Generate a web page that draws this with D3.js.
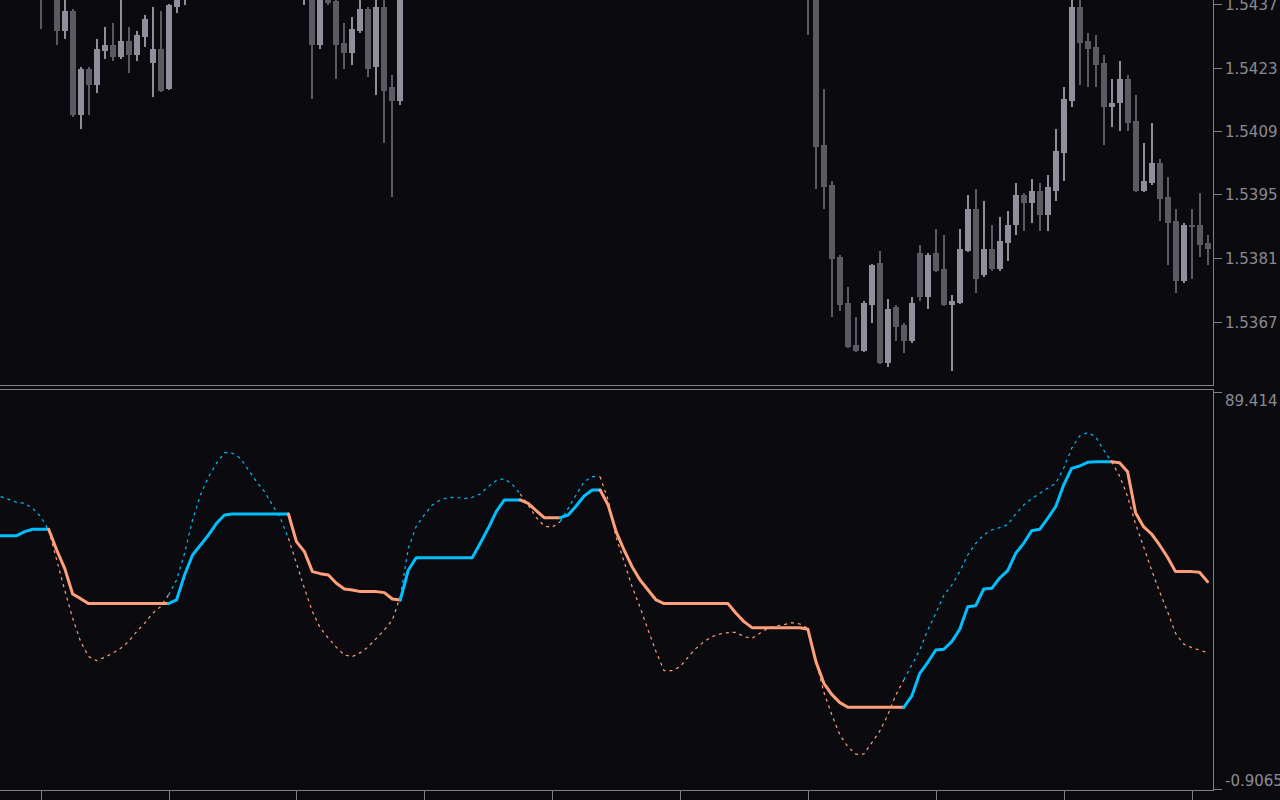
<!DOCTYPE html>
<html><head><meta charset="utf-8">
<script src="https://cdn.jsdelivr.net/npm/d3@7/dist/d3.min.js"></script>
<style>html,body{margin:0;padding:0;background:#0a0a0f;overflow:hidden}svg{display:block}</style>
</head><body><svg id="chart" width="1280" height="800"></svg>
<script>
// ---------- DATA ----------
const candleBar   = [5,7,8,9,10,11,12,13,14,15,16,17,18,19,20,21,22,23,38,39,40,41,42,43,44,45,46,47,48,49,50,101,102,103,104,105,106,107,108,109,110,111,112,113,114,115,116,117,118,119,120,121,122,123,124,125,126,127,128,129,130,131,132,133,134,135,136,137,138,139,140,141,142,143,144,145,146,147,148,149,150,151];
const candleOpen  = [1.54420,1.54410,1.54310,1.54355,1.54125,1.54227,1.54191,1.54266,1.54280,1.54253,1.54288,1.54258,1.54297,1.54240,1.54271,1.54183,1.54363,1.54400,1.54400,1.54420,1.54280,1.54383,1.54377,1.54284,1.54262,1.54310,1.54359,1.54231,1.54363,1.54187,1.54156,1.54430,1.54420,1.54059,1.53971,1.53812,1.53711,1.53618,1.53605,1.53706,1.53799,1.53579,1.53702,1.53662,1.53627,1.53821,1.53724,1.53821,1.53786,1.53706,1.53711,1.53826,1.53918,1.53773,1.53830,1.53786,1.53843,1.53883,1.53949,1.53931,1.53958,1.53905,1.53958,1.54041,1.54156,1.54363,1.54288,1.54275,1.54240,1.54143,1.54152,1.54205,1.54112,1.53958,1.53975,1.54019,1.53944,1.53892,1.53759,1.53883,1.53883,1.53843];
const candleHigh  = [1.54430,1.54420,1.54383,1.54359,1.54231,1.54231,1.54293,1.54319,1.54328,1.54383,1.54319,1.54310,1.54346,1.54363,1.54355,1.54370,1.54410,1.54430,1.54430,1.54430,1.54420,1.54400,1.54383,1.54328,1.54341,1.54385,1.54363,1.54390,1.54390,1.54213,1.54420,1.54440,1.54430,1.54183,1.53980,1.53817,1.53746,1.53680,1.53715,1.53797,1.53826,1.53720,1.53706,1.53667,1.53724,1.53839,1.53821,1.53874,1.53861,1.53728,1.53874,1.53949,1.53962,1.53936,1.53883,1.53900,1.53914,1.53975,1.53953,1.53984,1.53975,1.53993,1.54094,1.54187,1.54385,1.54380,1.54306,1.54302,1.54258,1.54205,1.54244,1.54213,1.54169,1.54064,1.54108,1.54028,1.53989,1.53918,1.53887,1.53918,1.53953,1.53861];
const candleLow   = [1.54315,1.54280,1.54293,1.54121,1.54094,1.54125,1.54174,1.54249,1.54244,1.54249,1.54218,1.54244,1.54275,1.54165,1.54176,1.54181,1.54350,1.54368,1.54368,1.54161,1.54271,1.54368,1.54205,1.54227,1.54236,1.54306,1.54209,1.54169,1.54064,1.53944,1.54147,1.54302,1.53962,1.53918,1.53680,1.53693,1.53612,1.53603,1.53603,1.53667,1.53577,1.53570,1.53627,1.53601,1.53623,1.53715,1.53698,1.53779,1.53704,1.53561,1.53709,1.53824,1.53733,1.53768,1.53781,1.53781,1.53803,1.53861,1.53870,1.53887,1.53870,1.53870,1.53936,1.53980,1.54143,1.54191,1.54187,1.54187,1.54059,1.54099,1.54090,1.54090,1.53956,1.53956,1.53971,1.53892,1.53795,1.53733,1.53755,1.53764,1.53812,1.53795];
const candleClose = [1.54400,1.54310,1.54355,1.54125,1.54227,1.54191,1.54271,1.54280,1.54253,1.54288,1.54258,1.54302,1.54337,1.54271,1.54178,1.54368,1.54401,1.54420,1.54420,1.54280,1.54410,1.54372,1.54280,1.54262,1.54315,1.54359,1.54227,1.54363,1.54178,1.54156,1.54410,1.54410,1.54055,1.53967,1.53808,1.53706,1.53614,1.53605,1.53711,1.53795,1.53579,1.53698,1.53658,1.53627,1.53711,1.53724,1.53817,1.53781,1.53706,1.53715,1.53830,1.53918,1.53764,1.53830,1.53786,1.53847,1.53883,1.53949,1.53931,1.53958,1.53905,1.53967,1.54046,1.54161,1.54363,1.54284,1.54271,1.54236,1.54143,1.54152,1.54205,1.54108,1.53958,1.53980,1.54019,1.53940,1.53887,1.53759,1.53883,1.53878,1.53839,1.53830];

// indicator: stepped main line and its dotted signal, one value per bar (0..151)
const solidLine = [
 56.67,56.67,56.67,57.58,58.11,58.11,58.11,53.40,49.23,43.39,
 42.33,41.20,41.20,41.20,41.20,41.20,41.20,41.20,41.20,41.20,
 41.20,41.20,42.03,47.72,52.27,54.54,56.82,59.47,61.37,61.59,
 61.59,61.59,61.59,61.59,61.59,61.59,61.59,55.30,53.03,48.48,
 48.02,47.72,45.82,44.53,44.30,43.93,43.93,43.93,43.70,42.26,
 42.03,48.85,51.66,51.66,51.66,51.66,51.66,51.66,51.66,51.66,
 54.92,58.33,62.13,64.78,64.78,64.78,64.02,62.35,60.76,60.76,
 60.76,61.37,63.41,65.69,67.05,67.05,63.64,57.58,53.40,49.61,
 46.58,44.30,42.03,41.20,41.20,41.20,41.20,41.20,41.20,41.20,
 41.20,41.20,39.00,37.10,35.73,35.73,35.73,35.73,35.73,35.73,
 35.73,35.36,28.00,23.07,20.49,18.67,17.61,17.61,17.61,17.61,
 17.61,17.61,17.61,17.61,20.19,25.35,27.85,30.65,30.81,32.55,
 35.36,40.51,40.74,44.53,44.68,47.03,48.70,52.65,54.92,57.80,
 58.11,60.61,63.26,68.19,71.98,72.51,73.35,73.50,73.50,73.50,
 73.27,71.23,61.90,58.71,57.04,54.54,51.74,48.48,48.48,48.48,
 48.32,46.20];
const dottedLine = [
 65.54,64.93,64.25,64.02,62.88,60.99,57.95,51.13,44.30,37.86,
 32.55,29.14,28.23,28.99,29.90,31.03,32.55,34.82,36.72,39.00,
 40.51,43.17,46.58,52.65,60.23,65.92,70.09,73.12,75.55,75.40,
 74.26,71.60,68.95,66.68,63.64,60.61,56.06,50.37,44.68,39.37,
 35.58,33.31,31.26,29.52,29.14,30.05,31.41,33.31,35.20,37.48,
 42.79,53.78,58.86,61.37,63.64,64.78,65.31,65.39,65.08,65.39,
 66.14,67.81,69.18,69.63,68.34,66.14,63.64,60.84,58.86,58.56,
 59.85,62.88,65.92,68.95,70.09,70.09,64.78,56.29,50.75,45.06,
 40.36,35.20,30.27,25.95,25.95,26.86,28.99,31.03,32.55,33.69,
 34.29,34.60,34.67,33.69,33.31,34.45,35.58,36.11,36.42,36.87,
 36.57,35.58,28.38,21.02,15.87,11.32,8.66,6.92,6.99,9.57,
 12.23,15.87,20.42,23.83,27.24,30.65,35.20,39.00,43.02,45.44,
 48.48,52.27,54.92,56.82,57.95,58.49,59.17,61.59,63.64,65.08,
 66.30,67.43,68.57,71.98,76.53,79.34,80.10,79.19,76.15,73.50,
 70.24,65.54,59.32,54.16,48.85,43.93,39.37,34.45,32.02,31.18,
 30.65,30.05];
// trend runs: first bar of each run and its direction (1 = up / blue, -1 = down / salmon)
const trendStart = [0,7,22,37,51,66,71,76,114,140];
const trendDir   = [1,-1,1,-1,1,-1,1,-1,1,-1];

const priceTicks = [1.5437,1.5423,1.5409,1.5395,1.5381,1.5367];
const priceTickLabels = ["1.5437","1.5423","1.5409","1.5395","1.5381","1.5367"];
const indTicks = [89.414,-0.9065];
const indTickLabels = ["89.414","-0.9065"];
const timeTickBars = [5,21,37,53,69,85,101,117,133,149];

// ---------- STYLE ----------
const BG="#0a0a0f", AXIS="#7f7f87", TXT="#8a8a92";
const UP_C="#8e8f9b", DN_C="#5a5a60";
const BLUE="#00bfff", SALMON="#ffa07a";
const AX_X=1213.5;

const svg=d3.select("#chart");
svg.append("rect").attr("width",1280).attr("height",800).attr("fill",BG);

const nBars=solidLine.length;
const x=d3.scaleLinear().domain([5,151]).range([40.7,1207.5]);
const yP=d3.scaleLinear().domain([1.5437,1.5367]).range([4,321.5]);
const yI=d3.scaleLinear().domain([89.414,-0.9065]).range([391.7,788.7]);

const defs=svg.append("defs");
defs.append("clipPath").attr("id","cp").append("rect").attr("x",0).attr("y",0).attr("width",1213).attr("height",385);
defs.append("clipPath").attr("id","ci").append("rect").attr("x",0).attr("y",390).attr("width",1213).attr("height",400);

// ---------- CANDLES ----------
const candles=candleBar.map((b,i)=>({b,o:candleOpen[i],h:candleHigh[i],l:candleLow[i],c:candleClose[i]}));
const gP=svg.append("g").attr("clip-path","url(#cp)");
const cg=gP.selectAll("g.c").data(candles).join("g").attr("class","c");
cg.append("rect")
  .attr("x",d=>Math.round(x(d.b))-1).attr("width",2)
  .attr("y",d=>Math.round(yP(d.h))).attr("height",d=>Math.max(1,Math.round(yP(d.l))-Math.round(yP(d.h))))
  .attr("fill",d=>d.c>d.o?UP_C:DN_C);
cg.append("rect")
  .attr("x",d=>Math.round(x(d.b))-3).attr("width",6)
  .attr("y",d=>Math.round(yP(Math.max(d.o,d.c))))
  .attr("height",d=>Math.max(2,Math.round(yP(Math.min(d.o,d.c)))-Math.round(yP(Math.max(d.o,d.c)))))
  .attr("fill",d=>d.c>d.o?UP_C:DN_C);

// ---------- INDICATOR ----------
const gI=svg.append("g").attr("clip-path","url(#ci)");
const runs=trendStart.map((s,i)=>{
  const e=(i+1<trendStart.length?trendStart[i+1]-1:nBars-1);
  const from=Math.max(0,s-1);
  return {dir:trendDir[i],idx:d3.range(from,e+1)};
});
const lineOf=arr=>d3.line().x(k=>x(k)).y(k=>yI(arr[k]));
gI.selectAll("path.dot").data(runs).join("path").attr("class","dot")
  .attr("d",r=>lineOf(dottedLine)(r.idx)).attr("fill","none")
  .attr("stroke",r=>r.dir>0?BLUE:SALMON).attr("stroke-width",1.2)
  .attr("stroke-dasharray","3,4");
gI.selectAll("path.sol").data(runs).join("path").attr("class","sol")
  .attr("d",r=>lineOf(solidLine)(r.idx)).attr("fill","none")
  .attr("stroke",r=>r.dir>0?BLUE:SALMON).attr("stroke-width",3)
  .attr("stroke-linejoin","round").attr("stroke-linecap","round");

// ---------- FRAME & AXES ----------
const fr=svg.append("g").attr("stroke",AXIS).attr("stroke-width",1).attr("fill","none").attr("shape-rendering","crispEdges");
fr.append("line").attr("x1",0).attr("x2",AX_X).attr("y1",385.5).attr("y2",385.5);
fr.append("line").attr("x1",0).attr("x2",AX_X).attr("y1",389.5).attr("y2",389.5);
fr.append("line").attr("x1",0).attr("x2",AX_X).attr("y1",790.5).attr("y2",790.5);
fr.append("line").attr("x1",AX_X).attr("x2",AX_X).attr("y1",0).attr("y2",385.5);
fr.append("line").attr("x1",AX_X).attr("x2",AX_X).attr("y1",389.5).attr("y2",790.5);

// price axis ticks & labels
priceTicks.forEach((v,i)=>{
  const yy=Math.round(yP(v))+0.5;
  fr.append("line").attr("x1",AX_X).attr("x2",AX_X+8).attr("y1",yy).attr("y2",yy);
  svg.append("text").attr("x",1225).attr("y",yy+5.5).text(priceTickLabels[i])
    .attr("fill",TXT).attr("font-family","DejaVu Sans").attr("font-size",15);
});
// indicator axis ticks & labels
indTicks.forEach((v,i)=>{
  const yy=Math.round(yI(v))+0.5;
  fr.append("line").attr("x1",AX_X).attr("x2",AX_X+8).attr("y1",yy).attr("y2",yy);
  svg.append("text").attr("x",1225).attr("y",i===0?yy+13:yy-4).text(indTickLabels[i])
    .attr("fill",TXT).attr("font-family","DejaVu Sans").attr("font-size",15);
});
// time ticks
timeTickBars.forEach(b=>{
  const xx=Math.round(x(b))+0.5;
  fr.append("line").attr("x1",xx).attr("x2",xx).attr("y1",790.5).attr("y2",800);
});
</script>
</body></html>
